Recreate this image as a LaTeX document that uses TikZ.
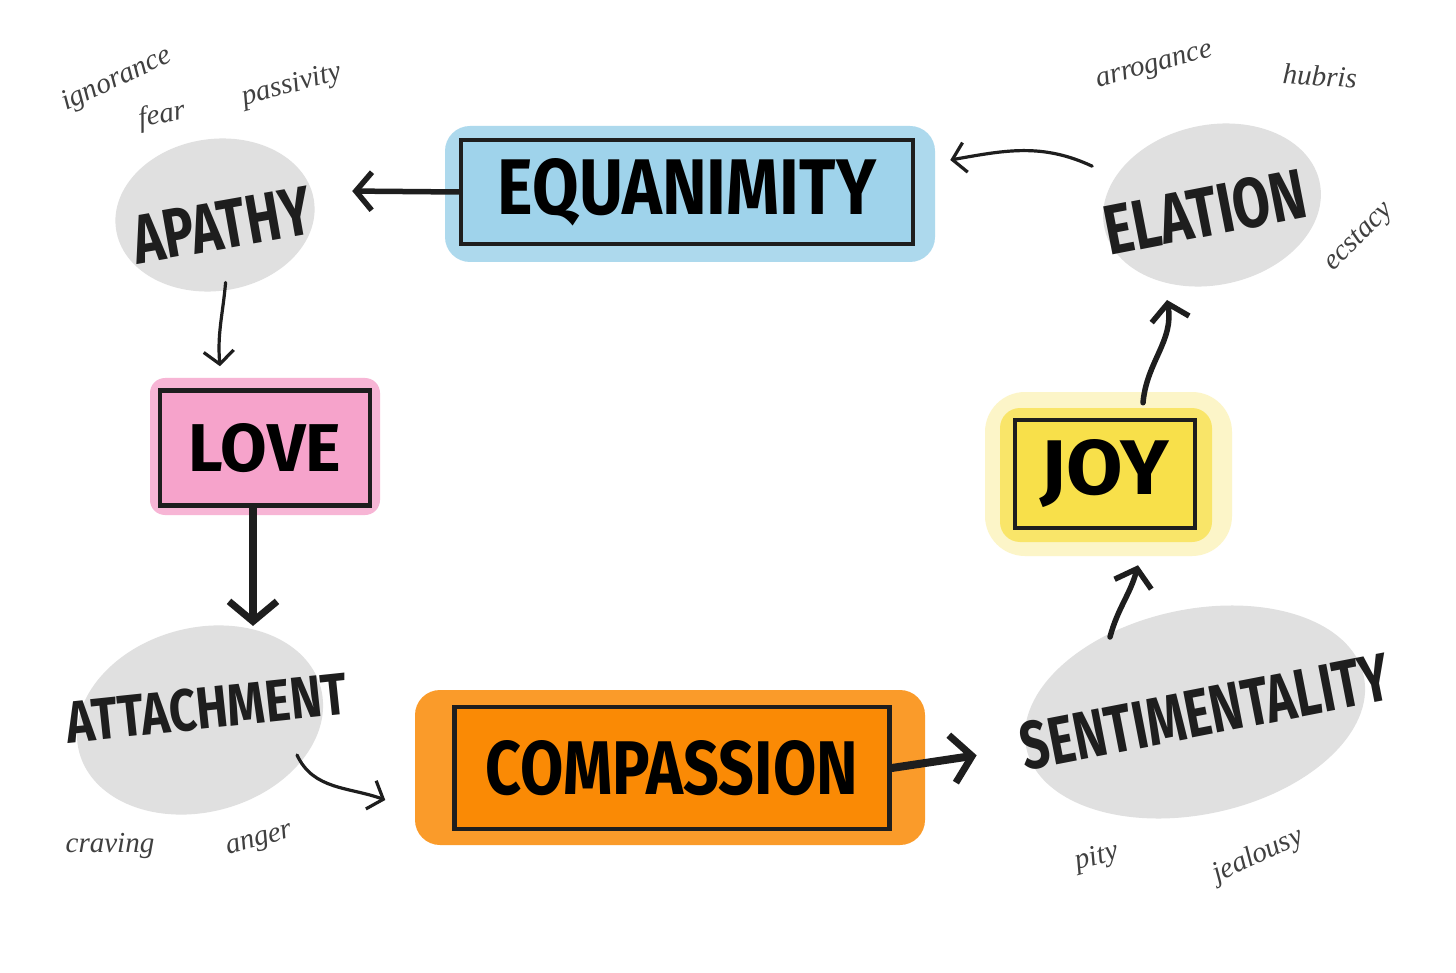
\documentclass[tikz,border=0pt]{standalone}
\usepackage{fontspec}
\usepackage{graphicx}
\setmainfont{Fira Sans}
\newfontfamily\handfont{Liberation Serif}
\usetikzlibrary{arrows.meta,shapes.geometric,calc}
\definecolor{eqblue}{HTML}{9FD3EB}
\definecolor{lovepink}{HTML}{F6A3CB}
\definecolor{comporange}{HTML}{FA8A05}
\definecolor{joyyellow}{HTML}{F8E04A}
\definecolor{blobgray}{HTML}{E0E0E0}
\definecolor{ink}{HTML}{1E1E1E}
\newcommand\biglbl[3]{\resizebox{#1pt}{#2pt}{\bfseries #3}}
\begin{document}
\begin{tikzpicture}[x=1pt,y=-1pt,
  box/.style={draw=ink,line width=4.5pt,inner sep=0pt},
  blob/.style={ellipse,fill=blobgray,draw=none,inner sep=0pt},
  lbl/.style={text=ink,inner sep=0pt},
  word/.style={font=\handfont\itshape\fontsize{29}{29}\selectfont,text=ink!85,inner sep=0pt},
  arrT/.style={draw=ink,line width=3.2pt,line cap=round,-{Straight Barb[length=13pt,width=30pt,line width=3.2pt]}},
  arrM/.style={draw=ink,line width=5.5pt,line cap=round,-{Straight Barb[length=16pt,width=38pt,line width=5.5pt]}},
  arrL/.style={draw=ink,line width=8pt,line cap=round,-{Straight Barb[length=20pt,width=48pt,line width=7pt]}}
]
\useasboundingbox (0,0) rectangle (1456,973);
\fill[white] (0,0) rectangle (1456,973);

% splashes
\fill[eqblue,opacity=0.85,rounded corners=25pt] (445,126) rectangle (935,262);
\fill[lovepink,opacity=0.8,rounded corners=15pt] (150,378) rectangle (380,515);
\fill[comporange,opacity=0.85,rounded corners=25pt] (415,690) rectangle (925,845);
\fill[joyyellow,opacity=0.3,rounded corners=40pt] (985,392) rectangle (1232,556);
\fill[joyyellow,opacity=0.75,rounded corners=20pt] (1000,408) rectangle (1212,542);

% blobs
\node[blob,minimum width=200pt,minimum height=152pt,rotate=8] (apa) at (215,215) {};
\node[blob,minimum width=220pt,minimum height=160pt,rotate=12] (ela) at (1212,205) {};
\node[blob,minimum width=250pt,minimum height=184pt,rotate=15] (att) at (200,720) {};
\node[blob,minimum width=345pt,minimum height=205pt,rotate=12] (sent) at (1195,712) {};

% boxes
\node[box,fill=eqblue,minimum width=452pt,minimum height=104pt] (equ) at (687,192) {\biglbl{378}{56}{EQUANIMITY}};
\node[box,fill=lovepink,minimum width=210pt,minimum height=115pt] (love) at (265,448) {\biglbl{152}{48}{LOVE}};
\node[box,fill=comporange,minimum width=435pt,minimum height=122pt] (comp) at (672,768) {\biglbl{372}{54}{COMPASSION}};
\node[box,fill=joyyellow,minimum width=180pt,minimum height=108pt] (joy) at (1105,474) {\biglbl{128}{55}{JOY}};

% blob labels
\node[lbl,rotate=10] (apal) at (222,225) {\biglbl{180}{48}{APATHY}};
\node[lbl,rotate=11] (elal) at (1205,212) {\biglbl{205}{50}{ELATION}};
\node[lbl,rotate=6] (attl) at (207,708) {\biglbl{282}{42}{ATTACHMENT}};
\node[lbl,rotate=11] (sentl) at (1205,712) {\biglbl{375}{48}{SENTIMENTALITY}};

% small words
\node[word,rotate=25] (w1) at (117,80) {ignorance};
\node[word,rotate=10] (w2) at (162,116) {fear};
\node[word,rotate=15] (w3) at (292,86) {passivity};
\node[word,rotate=15] (w4) at (1155,68) {arrogance};
\node[word,rotate=-3] (w5) at (1320,76) {hubris};
\node[word,rotate=45] (w6) at (1360,238) {ecstacy};
\node[word] (w7) at (110,846) {craving};
\node[word,rotate=15] (w8) at (260,842) {anger};
\node[word,rotate=15] (w9) at (1097,858) {pity};
\node[word,rotate=25] (w10) at (1258,856) {jealousy};

% connectors
\draw[arrM] (equ.west) -- ($(apa.east)+(38,-10)$);
\draw[arrT] ($(ela.150)+(-25,-8)$) to[out=155,in=10] ($(equ.east)+(35,-32)$);
\draw[arrT] ($(apa.south)+(0,-8)$) to[out=-95,in=95] ($(love.north)+(-45,-22)$);
\draw[arrL] ($(love.south)+(-12,0)$) -- ($(love.south |- att.north)+(-12,-5)$);
\draw[arrT] ($(att.center)+(97,35)$) to[out=-65,in=160] ($(comp.west)+(-67,32)$);
\draw[arrL,shorten >=50pt] (comp.east) -- (sent.west);
\draw[arrM] ($(sent.center)+(-85,-75)$) to[out=75,in=-105] ($(joy.south)+(33,35)$);
\draw[arrM] ($(joy.north)+(38,-15)$) to[out=85,in=-80] ($(ela.center)+(-45,95)$);
\end{tikzpicture}
\end{document}
